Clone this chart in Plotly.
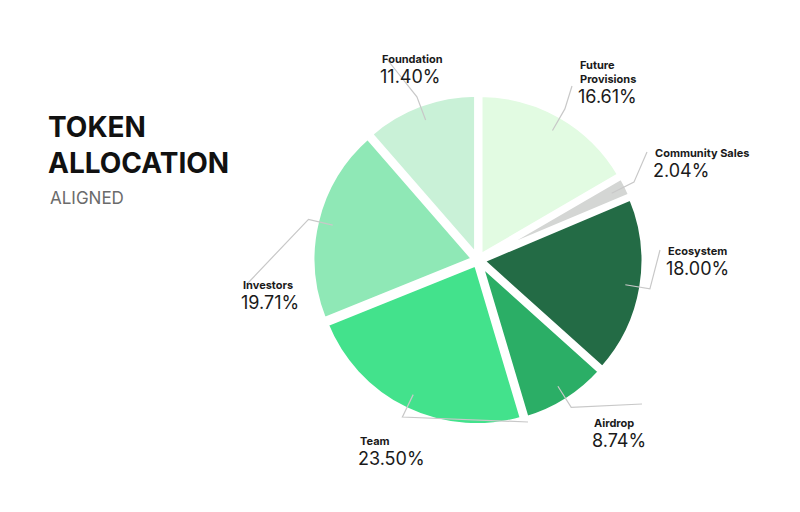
import numpy as np
import plotly.graph_objects as go

labels = ['Future Provisions', 'Community Sales', 'Ecosystem', 'Airdrop', 'Team', 'Investors', 'Foundation']
label_text = ['Future<br>Provisions', 'Community Sales', 'Ecosystem', 'Airdrop', 'Team', 'Investors', 'Foundation']
values = [16.61, 2.04, 18.00, 8.74, 23.50, 19.71, 11.40]
colors = ['#e2fbe2', '#d4d6d4', '#236b45', '#2bae66', '#43e28c', '#8fe8b6', '#c9f1d7']
# label anchor positions in pixels (x, y of the top-left of the name)
label_px = [(570, 48), (645, 136), (658, 234), (584, 406), (350, 424), (233, 268), (372, 42)]

W, H = 800, 512
cx, cy, r = 470, 252, 166

fig = go.Figure(go.Pie(
    labels=labels, values=values, sort=False, direction='clockwise', rotation=0,
    marker=dict(colors=colors, line=dict(color='white', width=5)),
    pull=0.025, textinfo='none', hoverinfo='label+percent', showlegend=False,
    domain=dict(x=[(cx - r) / W, (cx + r) / W], y=[1 - (cy + r) / H, 1 - (cy - r) / H]),
))

start = 0.0
total = sum(values)
for name, v, (lx, ly) in zip(label_text, values, label_px):
    mid = (start + v / 2) / total * 2 * np.pi
    start += v
    sx, sy = cx + 0.9 * r * np.sin(mid), cy - 0.9 * r * np.cos(mid)
    ex, ey = cx + 1.05 * r * np.sin(mid), cy - 1.05 * r * np.cos(mid)
    two = '<br>' in name
    kx = lx - 6 if ex < lx else lx + 6
    ky = ly + (30 if two else 8)
    if name in ('Team', 'Airdrop'):
        kx, ky = (lx + 170 if name == 'Team' else lx + 50, ly - 10)
    fig.add_shape(type='path', xref='paper', yref='paper',
                  path=f'M {sx/W} {1-sy/H} L {ex/W} {1-ey/H} L {kx/W} {1-ky/H}',
                  line=dict(color='#c8c8c8', width=1.2))
    fig.add_annotation(x=lx / W, y=1 - ly / H, xref='paper', yref='paper', xanchor='left', yanchor='top',
                       showarrow=False, align='left', text=f'<b>{name}</b>',
                       font=dict(family='Inter', size=11, color='#1a1a1a'))
    fig.add_annotation(x=(lx - 2) / W, y=1 - (ly + (28 if two else 14)) / H, xref='paper', yref='paper',
                       xanchor='left', yanchor='top', showarrow=False, text=f'{v:.2f}%',
                       font=dict(family='Inter', size=18, color='#1a1a1a'))

fig.add_annotation(x=38 / W, y=1 - 100 / H, xref='paper', yref='paper', xanchor='left', yanchor='top',
                   showarrow=False, align='left', text='<b>TOKEN<br>ALLOCATION</b>',
                   font=dict(family='Inter', size=28, color='#111111'))
fig.add_annotation(x=40 / W, y=1 - 178 / H, xref='paper', yref='paper', xanchor='left', yanchor='top',
                   showarrow=False, text='ALIGNED', font=dict(family='Inter', size=17, color='#6b6b6b'))

fig.update_layout(width=W, height=H, margin=dict(l=0, r=0, t=0, b=0),
                  paper_bgcolor='white', plot_bgcolor='white')
fig.write_html('out.html')
